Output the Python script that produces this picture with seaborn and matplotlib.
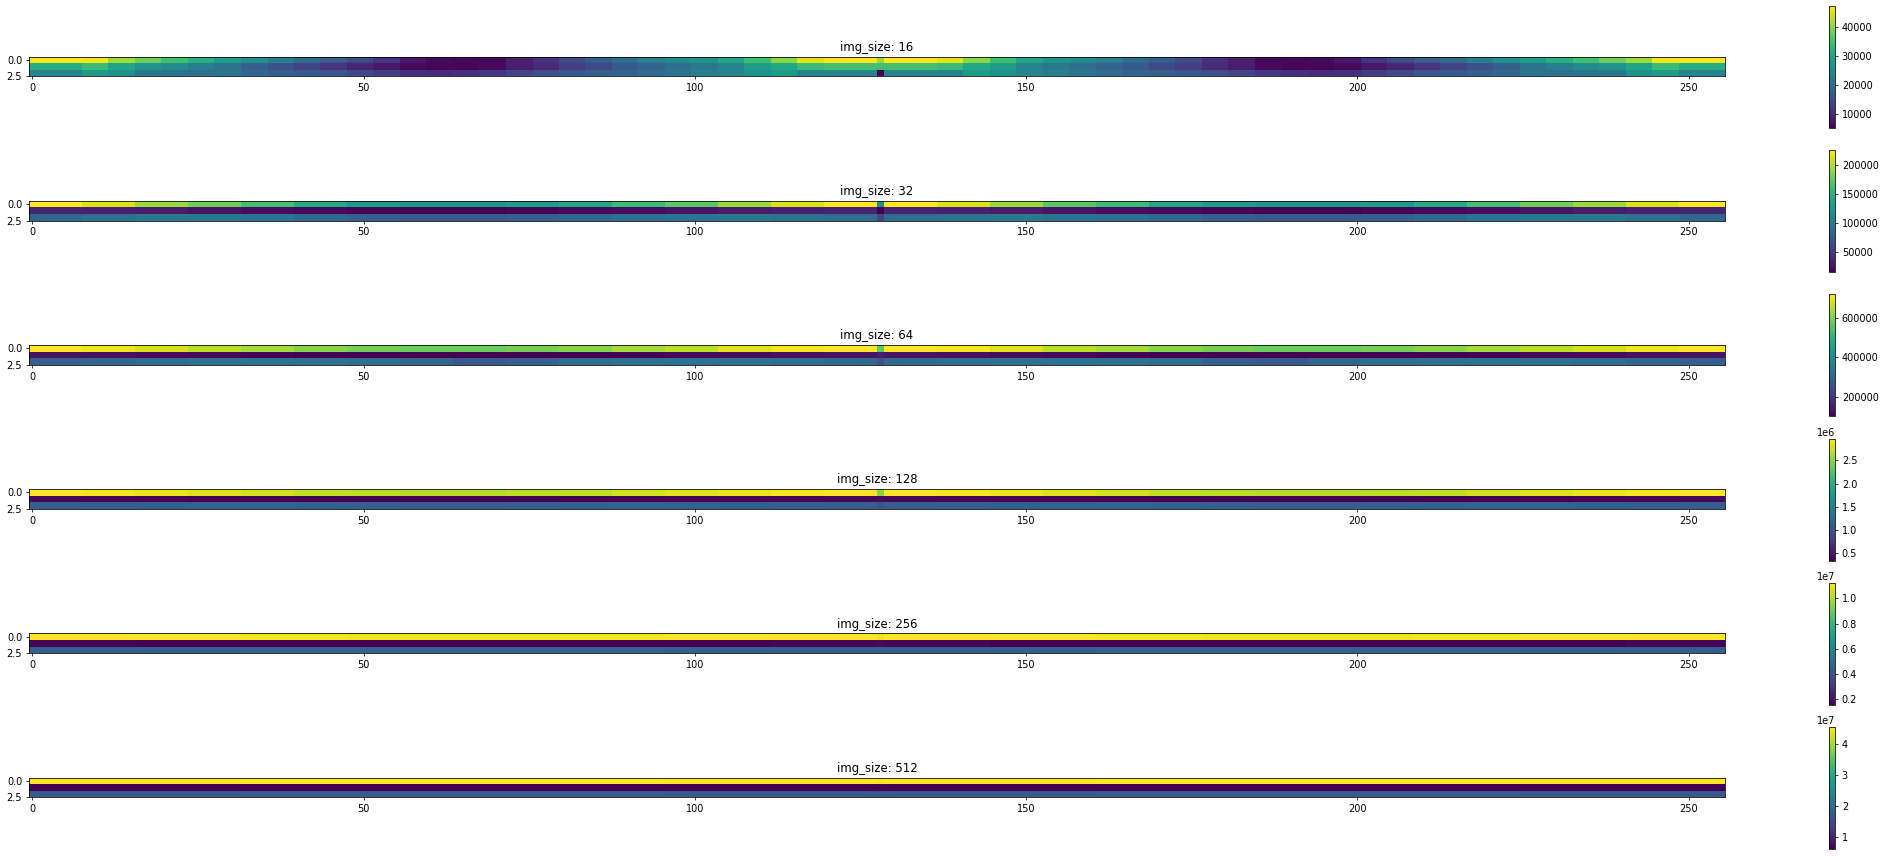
import numpy as np
import matplotlib
matplotlib.use("Agg")
import matplotlib.pyplot as plt
import seaborn as sns

img_sizes = [16, 32, 64, 128, 256, 512]

# values: left half (cols 0..127), row by row,
# plus the single middle column (col 128); right half mirrors the left
s16_r0 = [47000, 47000, 46500, 41000, 38000, 34500, 31500, 28500,
          26000, 23000, 20000, 17500, 14500, 11500, 7500, 6000,
          5500, 6000, 8500, 11000, 14500, 17500, 20000, 23000,
          25500, 27000, 30500, 34500, 40000, 45500, 47000, 47400]
s16_r1 = [31300, 31300, 33800, 29600, 27000, 25400, 22800, 21100,
          17700, 15600, 13500, 11400, 9200, 7500, 6300, 5500,
          5500, 6300, 8400, 10100, 12600, 14300, 16900, 18600,
          20300, 22000, 24100, 28300, 30400, 33800, 34700, 34700]
s16_r2 = [24100, 24100, 28300, 26200, 22000, 21100, 20300, 21100,
          19000, 17700, 16900, 16000, 14300, 12600, 10900, 10100,
          10900, 11800, 13500, 15200, 16400, 17700, 18600, 19800,
          21100, 22800, 24100, 27000, 28300, 24100, 24100, 24100]
s16_mid = [41000, 34700, 5000]

s32_r0 = [226000, 215000, 194000, 180000, 163000, 146000, 131000, 125000,
          125000, 131000, 142000, 159000, 173000, 194000, 215000, 226000]
s32_r1 = [36500, 34400, 30200, 26000, 21800, 19700, 17600, 15500,
          15500, 17600, 19700, 21800, 26000, 30200, 34400, 36500]
s32_r2 = [85000, 91300, 99700, 99700, 95500, 85000, 78700, 74400,
          74400, 78700, 85000, 91300, 95500, 99700, 95500, 89200]
s32_mid = [121000, 15500, 57600]

s64_r0 = [717000, 704700, 680200, 655600, 631000, 606500, 588100, 575800,
          575800, 588100, 606500, 631000, 655600, 686300, 710900, 717000]
s64_r1 = [133700, 127600, 121400, 115300, 109100, 103000, 103000, 103000,
          103000, 103000, 103000, 109100, 115300, 121400, 127600, 133700]
s64_r2 = [287200, 299500, 317900, 330200, 336300, 330200, 317900, 299500,
          274900, 287200, 317900, 330200, 336300, 330200, 317900, 305600]
s64_mid = [563500, 152000, 256500]

s128_r0 = [2.970e6, 2.944e6, 2.891e6, 2.839e6, 2.786e6, 2.733e6, 2.707e6, 2.681e6,
           2.681e6, 2.707e6, 2.733e6, 2.786e6, 2.839e6, 2.891e6, 2.944e6, 2.970e6]
s128_r1 = [0.39e6, 0.38e6, 0.37e6, 0.36e6, 0.35e6, 0.34e6, 0.34e6, 0.34e6,
           0.34e6, 0.34e6, 0.35e6, 0.36e6, 0.37e6, 0.38e6, 0.39e6, 0.39e6]
s128_r2 = [1.12e6, 1.13e6, 1.14e6, 1.15e6, 1.15e6, 1.14e6, 1.13e6, 1.12e6,
           1.12e6, 1.13e6, 1.14e6, 1.15e6, 1.15e6, 1.14e6, 1.13e6, 1.12e6]
s128_mid = [2.497e6, 0.42e6, 1.0e6]

s256_r0 = [1.125e7, 1.12e7, 1.11e7, 1.105e7, 1.105e7, 1.11e7, 1.12e7, 1.125e7]
s256_r1 = [0.16e7, 0.155e7, 0.152e7, 0.152e7, 0.152e7, 0.152e7, 0.155e7, 0.16e7]
s256_r2 = [0.44e7, 0.445e7, 0.45e7, 0.45e7, 0.45e7, 0.45e7, 0.445e7, 0.44e7]
s256_mid = [1.10e7, 0.17e7, 0.43e7]

s512_r0 = [4.56e7, 4.55e7, 4.54e7, 4.53e7, 4.53e7, 4.54e7, 4.55e7, 4.56e7]
s512_r1 = [0.61e7, 0.605e7, 0.60e7, 0.60e7, 0.60e7, 0.60e7, 0.605e7, 0.61e7]
s512_r2 = [1.70e7, 1.71e7, 1.72e7, 1.72e7, 1.72e7, 1.72e7, 1.71e7, 1.70e7]
s512_mid = [4.50e7, 0.62e7, 1.68e7]

panels = {
    16: ([s16_r0, s16_r1, s16_r2], s16_mid),
    32: ([s32_r0, s32_r1, s32_r2], s32_mid),
    64: ([s64_r0, s64_r1, s64_r2], s64_mid),
    128: ([s128_r0, s128_r1, s128_r2], s128_mid),
    256: ([s256_r0, s256_r1, s256_r2], s256_mid),
    512: ([s512_r0, s512_r1, s512_r2], s512_mid),
}

x_ticks = [0, 50, 100, 150, 200, 250]


def full_row(half, mid):
    half = np.repeat(np.asarray(half, float), 128 // len(half))
    return np.concatenate([half, [mid], half[:0:-1]])


# the original was drawn at a low dpi, so the text is small next to the marks
DPI = 70
W, H = 1886, 856
fig = plt.figure(figsize=(W / DPI, H / DPI), dpi=DPI)

for i, size in enumerate(img_sizes):
    rows, mids = panels[size]
    grid = np.vstack([full_row(r, m) for r, m in zip(rows, mids)])

    cy = 66.5 + 144.2 * i
    ax = fig.add_axes([29 / W, 1 - (cy + 10) / H, 1696 / W, 20 / H])
    cb_top = 6 + 144.2 * i
    cax = fig.add_axes([1829 / W, 1 - (cb_top + 122) / H, 6 / W, 122 / H])

    sns.heatmap(grid, ax=ax, cbar_ax=cax, cmap="viridis", square=True,
                xticklabels=False, yticklabels=False)

    for s in ax.spines.values():
        s.set_visible(True)
        s.set_linewidth(0.8)
        s.set_edgecolor("black")
    ax.set_xticks(np.array(x_ticks) + 0.5, labels=[str(t) for t in x_ticks])
    ax.set_yticks([0.5, 3.0], labels=["0.0", "2.5"])
    ax.tick_params(axis="both", labelrotation=0, length=3.5, width=0.8,
                   labelsize=10)
    ax.set_title(f"img_size: {size}", fontsize=12)

    cb = ax.collections[0].colorbar
    cb.outline.set_linewidth(0.8)
    cb.outline.set_edgecolor("black")
    cb.ax.tick_params(labelsize=10, length=3.5, width=0.8)

fig.savefig("out.png", dpi=DPI)
